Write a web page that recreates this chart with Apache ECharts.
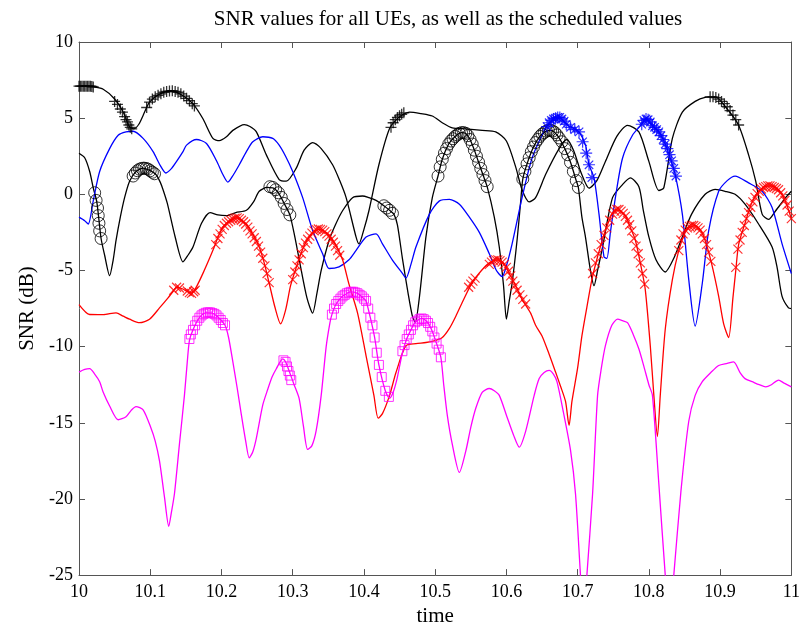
<!DOCTYPE html>
<html>
<head>
<meta charset="utf-8">
<script src="https://cdn.jsdelivr.net/npm/echarts@6/dist/echarts.min.js"></script>
<style>html,body{margin:0;padding:0;background:#fff;overflow:hidden}#c{width:803px;height:632px}</style>
</head>
<body>
<div id="c"></div>
<script>
// ---- axis ticks ----
const xTicks = [10, 10.1, 10.2, 10.3, 10.4, 10.5, 10.6, 10.7, 10.8, 10.9, 11];
const yTicks = [-25, -20, -15, -10, -5, 0, 5, 10];

// ---- UE lines [time, SNR dB] ----
const ueBlackPlus = [[10.000,7.1],[10.010,7.1],[10.020,7.05],[10.034,6.9],[10.050,6.26],[10.062,5.4],[10.071,4.43],[10.077,4.3],[10.084,4.6],[10.090,5.18],[10.099,6.05],[10.113,6.58],[10.130,6.8],[10.146,6.47],[10.160,5.94],[10.174,4.96],[10.188,3.67],[10.197,3.52],[10.207,3.78],[10.216,4.2],[10.232,4.58],[10.240,4.45],[10.249,4.1],[10.263,2.59],[10.281,0.97],[10.291,0.86],[10.305,1.72],[10.316,2.9],[10.328,3.4],[10.340,3.0],[10.356,1.94],[10.366,0.9],[10.375,-0.22],[10.389,-2.81],[10.393,-3.25],[10.400,-2.3],[10.407,-1.08],[10.421,1.94],[10.436,4.32],[10.450,5.1],[10.464,5.4],[10.480,5.3],[10.496,5.14],[10.510,4.7],[10.524,4.36],[10.543,4.3],[10.566,4.2],[10.585,4.1],[10.600,3.5],[10.613,1.8],[10.622,0.3],[10.632,-0.5],[10.641,-0.22],[10.655,1.3],[10.674,3.0],[10.685,3.6],[10.695,2.8],[10.705,1.4],[10.716,0.4],[10.727,0.9],[10.739,2.16],[10.755,3.8],[10.770,4.53],[10.786,4.1],[10.800,2.16],[10.814,0.25],[10.821,0.43],[10.833,3.67],[10.847,5.4],[10.865,6.1],[10.879,6.37],[10.893,6.4],[10.910,5.6],[10.926,4.53],[10.940,2.59],[10.950,0.86],[10.959,-1.3],[10.968,-1.65],[10.978,-1.08],[10.992,-0.22],[11.000,0.2]];

const ueBlackCircle = [[10.000,2.7],[10.008,2.4],[10.015,1.5],[10.020,0.43],[10.025,-0.5],[10.031,-2.9],[10.036,-4.0],[10.043,-5.34],[10.048,-4.3],[10.052,-3.03],[10.058,-1.5],[10.064,-0.22],[10.071,0.86],[10.080,1.5],[10.090,1.72],[10.100,1.55],[10.108,1.3],[10.114,0.8],[10.118,0.3],[10.124,-0.6],[10.135,-2.8],[10.146,-4.43],[10.153,-4.0],[10.160,-3.46],[10.172,-1.9],[10.184,-1.2],[10.195,-1.35],[10.207,-1.4],[10.220,-1.2],[10.235,-1.05],[10.245,-0.5],[10.253,0.2],[10.264,0.45],[10.272,0.43],[10.280,0.1],[10.288,-0.6],[10.296,-1.35],[10.303,-2.8],[10.310,-4.5],[10.320,-6.8],[10.328,-7.8],[10.334,-6.5],[10.340,-5.0],[10.351,-3.03],[10.360,-2.0],[10.370,-1.08],[10.384,-0.22],[10.398,-0.11],[10.407,-0.22],[10.417,-0.4],[10.428,-0.75],[10.436,-1.05],[10.442,-1.3],[10.447,-2.0],[10.454,-4.2],[10.462,-6.5],[10.468,-8.0],[10.472,-8.4],[10.478,-6.7],[10.487,-2.81],[10.496,-0.22],[10.504,1.2],[10.510,2.3],[10.519,3.3],[10.528,3.8],[10.537,4.05],[10.543,4.0],[10.549,3.6],[10.555,2.9],[10.561,2.1],[10.567,1.3],[10.573,0.5],[10.583,-1.5],[10.590,-3.46],[10.596,-6.0],[10.600,-8.2],[10.604,-7.0],[10.608,-5.84],[10.615,-3.0],[10.620,-0.5],[10.623,1.0],[10.629,2.0],[10.638,3.1],[10.647,3.8],[10.656,4.15],[10.662,4.2],[10.668,4.05],[10.674,3.7],[10.682,3.0],[10.690,2.1],[10.698,0.9],[10.701,0.45],[10.706,-1.5],[10.711,-2.81],[10.718,-5.0],[10.723,-6.0],[10.728,-5.0],[10.735,-3.46],[10.749,-0.22],[10.763,0.64],[10.774,1.08],[10.786,0.5],[10.792,-1.0],[10.800,-2.8],[10.810,-4.3],[10.823,-5.1],[10.835,-4.2],[10.847,-2.8],[10.860,-1.3],[10.879,0.0],[10.893,0.32],[10.907,0.2],[10.921,0.0],[10.935,-0.65],[10.954,-1.95],[10.973,-3.46],[10.980,-4.8],[10.987,-6.7],[10.996,-7.46],[11.000,-7.5]];

const ueBlue = [[10.000,-1.5],[10.008,-1.73],[10.013,-1.95],[10.020,-0.43],[10.029,1.5],[10.043,3.0],[10.055,3.88],[10.066,4.1],[10.076,4.14],[10.090,3.67],[10.104,2.8],[10.114,1.9],[10.122,1.4],[10.130,1.7],[10.137,2.16],[10.146,2.8],[10.151,3.23],[10.165,3.6],[10.179,3.34],[10.193,2.2],[10.202,1.3],[10.209,0.8],[10.217,1.3],[10.225,1.94],[10.235,2.8],[10.244,3.45],[10.258,3.78],[10.272,3.67],[10.281,3.23],[10.290,2.5],[10.300,1.5],[10.314,-0.22],[10.328,-2.38],[10.342,-3.9],[10.351,-4.87],[10.365,-4.76],[10.379,-4.3],[10.389,-3.68],[10.403,-2.81],[10.417,-2.6],[10.426,-3.25],[10.440,-4.32],[10.454,-5.19],[10.459,-5.5],[10.466,-4.6],[10.473,-3.46],[10.492,-1.3],[10.506,-0.43],[10.520,-0.33],[10.534,-0.65],[10.548,-1.5],[10.562,-2.5],[10.576,-3.9],[10.586,-5.0],[10.594,-5.4],[10.600,-4.7],[10.608,-3.25],[10.622,-0.22],[10.636,2.37],[10.655,4.32],[10.665,4.9],[10.674,5.07],[10.684,4.6],[10.695,4.3],[10.702,4.1],[10.711,3.23],[10.716,1.94],[10.723,1.08],[10.730,-1.3],[10.737,-4.1],[10.741,-4.2],[10.746,-2.5],[10.753,-0.22],[10.763,2.37],[10.777,3.88],[10.790,4.6],[10.795,4.96],[10.805,4.5],[10.814,4.1],[10.823,3.3],[10.830,2.4],[10.837,1.3],[10.847,-1.3],[10.856,-5.6],[10.865,-8.65],[10.875,-5.84],[10.884,-2.38],[10.898,0.2],[10.910,0.9],[10.921,1.2],[10.940,0.75],[10.959,0.2],[10.973,-0.87],[10.987,-3.25],[11.000,-5.2]];

const ueRed = [[10.000,-7.24],[10.015,-7.89],[10.034,-7.9],[10.052,-7.78],[10.062,-8.0],[10.071,-8.2],[10.085,-8.43],[10.099,-8.2],[10.113,-7.46],[10.125,-6.8],[10.132,-6.38],[10.137,-6.1],[10.145,-6.2],[10.155,-6.45],[10.162,-6.3],[10.174,-5.19],[10.188,-3.68],[10.197,-2.6],[10.205,-2.0],[10.214,-1.7],[10.221,-1.55],[10.228,-1.7],[10.235,-1.95],[10.245,-2.7],[10.253,-3.46],[10.260,-4.5],[10.267,-5.84],[10.275,-7.4],[10.283,-8.5],[10.290,-7.6],[10.297,-6.0],[10.305,-4.8],[10.314,-3.6],[10.323,-2.81],[10.337,-2.3],[10.350,-2.6],[10.360,-3.3],[10.370,-4.3],[10.379,-5.9],[10.391,-7.78],[10.403,-10.6],[10.414,-13.2],[10.420,-14.7],[10.426,-14.4],[10.436,-13.2],[10.445,-11.7],[10.459,-9.94],[10.473,-9.8],[10.487,-9.73],[10.500,-9.6],[10.510,-9.4],[10.520,-8.8],[10.529,-8.0],[10.540,-6.9],[10.552,-5.8],[10.565,-5.0],[10.576,-4.5],[10.587,-4.3],[10.596,-4.5],[10.604,-5.19],[10.613,-6.0],[10.622,-6.9],[10.634,-7.8],[10.641,-8.6],[10.650,-9.3],[10.660,-10.5],[10.669,-11.67],[10.676,-12.6],[10.683,-13.6],[10.688,-15.17],[10.692,-13.6],[10.700,-11.4],[10.706,-9.3],[10.713,-7.4],[10.720,-5.6],[10.728,-4.1],[10.739,-2.38],[10.753,-1.0],[10.760,-1.1],[10.767,-1.4],[10.775,-2.3],[10.781,-3.0],[10.790,-4.97],[10.795,-6.27],[10.802,-9.94],[10.807,-13.2],[10.812,-15.9],[10.816,-13.2],[10.823,-8.86],[10.833,-5.6],[10.842,-3.68],[10.850,-2.6],[10.856,-2.2],[10.865,-2.05],[10.872,-2.3],[10.879,-3.03],[10.888,-4.54],[10.898,-6.7],[10.905,-8.5],[10.912,-9.4],[10.918,-6.8],[10.922,-5.0],[10.926,-3.3],[10.935,-1.9],[10.945,-0.5],[10.959,0.4],[10.970,0.55],[10.982,0.3],[10.992,-0.5],[11.000,-1.6]];

const ueMagenta = [[10.000,-11.67],[10.008,-11.5],[10.015,-11.45],[10.022,-11.8],[10.029,-12.3],[10.034,-13.0],[10.043,-13.9],[10.055,-14.8],[10.066,-14.6],[10.073,-14.2],[10.080,-13.94],[10.090,-14.15],[10.101,-15.34],[10.107,-16.2],[10.113,-17.5],[10.120,-19.88],[10.126,-21.8],[10.130,-20.8],[10.134,-19.66],[10.141,-16.4],[10.148,-13.2],[10.152,-11.0],[10.155,-9.6],[10.160,-8.9],[10.169,-8.1],[10.178,-7.78],[10.187,-7.8],[10.196,-8.1],[10.205,-8.6],[10.210,-9.4],[10.216,-11.0],[10.222,-12.7],[10.228,-14.5],[10.234,-16.2],[10.239,-17.3],[10.244,-16.9],[10.249,-16.0],[10.258,-13.83],[10.265,-12.8],[10.271,-12.0],[10.277,-11.45],[10.286,-10.8],[10.290,-11.0],[10.295,-11.6],[10.302,-12.5],[10.309,-13.4],[10.315,-15.2],[10.321,-16.75],[10.327,-16.5],[10.333,-15.5],[10.340,-13.2],[10.347,-10.0],[10.352,-8.5],[10.355,-7.9],[10.361,-7.2],[10.370,-6.7],[10.382,-6.4],[10.391,-6.5],[10.400,-6.85],[10.403,-7.0],[10.409,-8.1],[10.415,-9.4],[10.421,-11.2],[10.430,-12.9],[10.436,-13.4],[10.441,-13.0],[10.446,-12.2],[10.450,-11.3],[10.454,-10.4],[10.460,-9.5],[10.466,-8.9],[10.472,-8.4],[10.481,-8.15],[10.490,-8.45],[10.496,-9.0],[10.502,-9.8],[10.508,-10.7],[10.512,-12.5],[10.517,-14.5],[10.524,-16.4],[10.534,-18.26],[10.543,-16.86],[10.550,-15.3],[10.557,-14.05],[10.566,-13.0],[10.576,-12.75],[10.583,-12.9],[10.590,-13.2],[10.600,-14.5],[10.610,-15.8],[10.618,-16.6],[10.627,-15.56],[10.639,-13.2],[10.646,-12.1],[10.653,-11.7],[10.660,-11.56],[10.666,-11.8],[10.671,-12.3],[10.680,-14.3],[10.690,-16.8],[10.697,-19.66],[10.704,-25.0],[10.7085,-28.0],[10.713,-25.0],[10.721,-19.66],[10.728,-13.2],[10.733,-11.5],[10.739,-9.94],[10.748,-8.6],[10.756,-8.2],[10.763,-8.3],[10.770,-8.43],[10.778,-9.2],[10.786,-10.16],[10.793,-11.3],[10.800,-12.5],[10.805,-13.2],[10.814,-19.0],[10.823,-25.0],[10.829,-28.0],[10.835,-25.0],[10.845,-19.5],[10.856,-14.9],[10.865,-13.2],[10.875,-12.3],[10.887,-11.7],[10.898,-11.24],[10.910,-11.1],[10.919,-11.0],[10.928,-11.7],[10.935,-12.1],[10.945,-12.3],[10.955,-12.5],[10.964,-12.64],[10.972,-12.5],[10.982,-12.2],[10.990,-12.4],[11.000,-12.64]];

// ---- scheduled values (markers) ----
const schedPlus = [[10.000,7.1],[10.002,7.1],[10.004,7.1],[10.006,7.1],[10.008,7.1],[10.010,7.1],[10.012,7.1],[10.014,7.1],[10.016,7.1],[10.018,7.08],[10.020,7.05],
 [10.050,6.1],[10.054,5.9],[10.058,5.6],[10.061,5.4],[10.064,5.1],[10.066,4.9],[10.068,4.75],[10.070,4.55],[10.072,4.4],[10.074,4.3],
 [10.095,5.7],[10.099,6.05],[10.103,6.25],[10.107,6.4],[10.111,6.5],[10.115,6.6],[10.119,6.7],[10.123,6.75],[10.127,6.78],[10.131,6.8],[10.135,6.75],[10.139,6.7],[10.143,6.6],[10.147,6.45],[10.151,6.3],[10.155,6.15],[10.159,5.95],[10.162,5.8],
 [10.438,4.4],[10.441,4.7],[10.444,4.9],[10.447,5.05],[10.450,5.15],[10.453,5.25],[10.456,5.35],
 [10.886,6.4],[10.890,6.4],[10.894,6.35],[10.898,6.25],[10.902,6.1],[10.906,5.95],[10.910,5.75],[10.914,5.5],[10.918,5.2],[10.922,4.9],[10.926,4.55]];

const schedCircle = [[10.022,0.1],[10.024,-0.4],[10.026,-0.9],[10.027,-1.4],[10.028,-1.9],[10.029,-2.4],[10.031,-2.9],
 [10.076,1.2],[10.079,1.4],[10.082,1.55],[10.085,1.65],[10.088,1.7],[10.091,1.72],[10.094,1.7],[10.097,1.65],[10.100,1.55],[10.103,1.45],[10.106,1.35],
 [10.268,0.5],[10.272,0.45],[10.276,0.3],[10.280,0.1],[10.284,-0.2],[10.288,-0.6],[10.292,-1.0],[10.296,-1.35],
 [10.428,-0.75],[10.432,-0.9],[10.436,-1.05],[10.440,-1.25],
 [10.504,1.2],[10.507,1.8],[10.510,2.3],[10.513,2.7],[10.516,3.0],[10.519,3.3],[10.522,3.5],[10.525,3.65],[10.528,3.8],[10.531,3.9],[10.534,4.0],[10.537,4.05],[10.540,4.05],[10.543,4.0],[10.546,3.85],[10.549,3.6],[10.552,3.3],[10.555,2.9],[10.558,2.5],[10.561,2.1],[10.564,1.7],[10.567,1.3],[10.570,0.9],[10.573,0.5],
 [10.623,1.0],[10.626,1.5],[10.629,2.0],[10.632,2.4],[10.635,2.8],[10.638,3.1],[10.641,3.4],[10.644,3.6],[10.647,3.8],[10.650,3.95],[10.653,4.05],[10.656,4.15],[10.659,4.2],[10.662,4.2],[10.665,4.15],[10.668,4.05],[10.671,3.9],[10.674,3.7],[10.678,3.45],[10.682,3.0],[10.686,2.6],[10.690,2.1],[10.694,1.5],[10.698,0.9],[10.701,0.45]];

const schedStar = [[10.657,4.45],[10.660,4.7],[10.663,4.85],[10.666,4.95],[10.669,5.0],[10.672,5.05],[10.675,5.05],[10.678,4.95],[10.681,4.8],[10.684,4.6],[10.690,4.4],[10.696,4.25],[10.702,4.1],[10.707,3.45],[10.712,2.7],[10.716,1.94],[10.720,1.1],
 [10.790,4.6],[10.793,4.85],[10.796,4.95],[10.799,4.9],[10.802,4.75],[10.805,4.5],[10.808,4.4],[10.811,4.25],[10.814,4.1],[10.817,3.85],[10.820,3.6],[10.823,3.3],[10.826,3.0],[10.829,2.6],[10.832,2.2],[10.835,1.7],[10.838,1.2]];

const schedX = [[10.133,-6.3],[10.137,-6.1],[10.141,-6.15],[10.152,-6.35],[10.155,-6.45],[10.158,-6.5],[10.161,-6.4],[10.163,-6.3],
 [10.192,-3.3],[10.195,-2.9],[10.198,-2.6],[10.201,-2.3],[10.204,-2.05],[10.207,-1.9],[10.210,-1.8],[10.213,-1.7],[10.216,-1.62],[10.219,-1.57],[10.222,-1.55],[10.225,-1.6],[10.228,-1.7],[10.231,-1.8],[10.234,-1.95],[10.237,-2.15],[10.240,-2.4],[10.243,-2.6],[10.246,-2.85],[10.249,-3.1],[10.252,-3.4],[10.255,-3.8],[10.258,-4.2],[10.261,-4.7],[10.264,-5.2],[10.267,-5.8],
 [10.300,-5.6],[10.303,-5.1],[10.306,-4.7],[10.309,-4.3],[10.312,-3.9],[10.315,-3.5],[10.318,-3.2],[10.321,-2.95],[10.324,-2.75],[10.327,-2.55],[10.330,-2.4],[10.333,-2.32],[10.336,-2.28],[10.339,-2.3],[10.342,-2.35],[10.345,-2.45],[10.348,-2.6],[10.351,-2.75],[10.354,-2.95],[10.357,-3.15],[10.360,-3.4],[10.363,-3.7],[10.366,-4.0],
 [10.547,-6.1],[10.550,-5.9],[10.553,-5.7],[10.556,-5.5],
 [10.576,-4.6],[10.579,-4.45],[10.582,-4.35],[10.585,-4.3],[10.588,-4.3],[10.591,-4.35],[10.594,-4.45],[10.597,-4.6],[10.600,-4.8],[10.603,-5.05],[10.606,-5.35],[10.609,-5.7],[10.612,-6.0],[10.615,-6.3],[10.619,-6.6],[10.623,-6.9],[10.627,-7.2],
 [10.721,-5.2],[10.725,-4.5],[10.729,-3.9],[10.733,-3.3],[10.737,-2.7],[10.741,-2.2],[10.745,-1.7],[10.749,-1.3],[10.752,-1.1],[10.755,-1.0],[10.758,-1.0],[10.761,-1.1],[10.764,-1.25],[10.767,-1.45],[10.770,-1.7],[10.773,-2.0],[10.776,-2.4],[10.779,-2.9],[10.782,-3.4],[10.785,-3.9],[10.788,-4.5],[10.791,-5.2],[10.794,-5.9],
 [10.842,-3.7],[10.845,-3.0],[10.848,-2.6],[10.851,-2.35],[10.854,-2.2],[10.857,-2.1],[10.860,-2.05],[10.863,-2.05],[10.866,-2.1],[10.869,-2.2],[10.872,-2.35],[10.875,-2.6],[10.878,-2.9],[10.881,-3.3],[10.884,-3.8],[10.887,-4.4],
 [10.922,-4.8],[10.925,-3.6],[10.928,-3.0],[10.931,-2.5],[10.934,-2.05],[10.937,-1.6],[10.940,-1.2],[10.943,-0.85],[10.946,-0.5],[10.949,-0.2],[10.952,0.05],[10.955,0.2],[10.958,0.35],[10.961,0.45],[10.964,0.5],[10.967,0.55],[10.970,0.55],[10.973,0.5],[10.976,0.45],[10.979,0.38],[10.982,0.3],[10.985,0.1],[10.988,-0.1],[10.991,-0.4],[10.994,-0.7],[10.997,-1.1],[11.000,-1.6]];

const schedSquare = [[10.155,-9.5],[10.157,-9.2],[10.160,-8.9],[10.163,-8.6],[10.166,-8.3],[10.169,-8.1],[10.172,-7.95],[10.175,-7.85],[10.178,-7.78],[10.181,-7.75],[10.184,-7.75],[10.187,-7.8],[10.190,-7.85],[10.193,-7.95],[10.196,-8.1],[10.199,-8.25],[10.202,-8.45],[10.205,-8.6],
 [10.287,-10.9],[10.290,-11.0],[10.292,-11.3],[10.294,-11.6],[10.296,-11.9],[10.298,-12.2],
 [10.355,-7.9],[10.358,-7.5],[10.361,-7.2],[10.364,-7.0],[10.367,-6.85],[10.370,-6.7],[10.373,-6.6],[10.376,-6.5],[10.379,-6.45],[10.382,-6.4],[10.385,-6.4],[10.388,-6.45],[10.391,-6.5],[10.394,-6.6],[10.397,-6.7],[10.400,-6.85],[10.403,-7.0],[10.406,-7.5],[10.409,-8.1],[10.412,-8.6],[10.415,-9.4],[10.418,-10.4],[10.421,-11.2],[10.425,-12.0],[10.430,-12.9],[10.435,-13.3],
 [10.454,-10.3],[10.457,-9.9],[10.460,-9.5],[10.463,-9.2],[10.466,-8.9],[10.469,-8.6],[10.472,-8.4],[10.475,-8.3],[10.478,-8.2],[10.481,-8.15],[10.484,-8.2],[10.487,-8.3],[10.490,-8.45],[10.493,-8.7],[10.496,-9.0],[10.499,-9.4],[10.502,-9.8],[10.505,-10.2],[10.508,-10.7]];

const FONT = '"Liberation Serif", "DejaVu Serif", serif';
const AXC = '#555';

function lineSeries(data, color) {
  return { type: 'line', data: data, showSymbol: false, smooth: 0.25, clip: true,
    lineStyle: { color: color, width: 1.3 }, itemStyle: { color: color }, animation: false, z: 2 };
}
function markSeries(data, symbol, size, color, bw) {
  return { type: 'scatter', data: data, symbol: symbol, symbolSize: size, clip: true,
    itemStyle: { color: 'rgba(0,0,0,0)', borderColor: color, borderWidth: bw }, animation: false, z: 3 };
}
const PLUS = 'path://M5,0L5,10M0,5L10,5';
const CROSS = 'path://M0,0L10,10M10,0L0,10';
const STAR = 'path://M5,0L5,10M0,5L10,5M1.5,1.5L8.5,8.5M8.5,1.5L1.5,8.5';

function xAx(pos, labels) {
  return { type: 'value', min: xTicks[0], max: xTicks[xTicks.length - 1], interval: 0.1, position: pos,
    name: labels ? 'time' : '', nameLocation: 'middle', nameGap: 28,
    nameTextStyle: { fontFamily: FONT, fontSize: 21, color: '#000' },
    axisLine: { show: true, onZero: false, lineStyle: { color: AXC, width: 1 } },
    axisTick: { inside: true, length: 6, lineStyle: { color: AXC } },
    axisLabel: { show: labels, margin: 8, fontFamily: FONT, fontSize: 18, color: '#000',
      formatter: v => String(Math.round(v * 10) / 10) },
    splitLine: { show: false } };
}
function yAx(pos, labels) {
  return { type: 'value', min: yTicks[0], max: yTicks[yTicks.length - 1], interval: 5, position: pos,
    name: labels ? 'SNR (dB)' : '', nameLocation: 'middle', nameGap: 40, nameRotate: 90,
    nameTextStyle: { fontFamily: FONT, fontSize: 21, color: '#000' },
    axisLine: { show: true, onZero: false, lineStyle: { color: AXC, width: 1 } },
    axisTick: { inside: true, length: 6, lineStyle: { color: AXC } },
    axisLabel: { show: labels, margin: 6, fontFamily: FONT, fontSize: 18, color: '#000' },
    splitLine: { show: false } };
}

const chart = echarts.init(document.getElementById('c'), null, { renderer: 'canvas' });
chart.setOption({
  backgroundColor: '#fff',
  animation: false,
  title: { text: 'SNR values for all UEs, as well as the scheduled values', left: 443, top: 4, textAlign: 'center',
    textStyle: { fontFamily: FONT, fontSize: 21, fontWeight: 'normal', color: '#000' } },
  grid: { left: 79, right: 10, top: 42, bottom: 50, containLabel: false },
  xAxis: [xAx('bottom', true), xAx('top', false)],
  yAxis: [yAx('left', true), yAx('right', false)],
  series: [
    lineSeries(ueBlackPlus, '#000000'),
    lineSeries(ueBlackCircle, '#000000'),
    lineSeries(ueBlue, '#0000ff'),
    lineSeries(ueRed, '#ff0000'),
    lineSeries(ueMagenta, '#ff00ff'),
    markSeries(schedPlus, PLUS, 11, '#000000', 1.3),
    markSeries(schedCircle, 'circle', 12, '#000000', 1),
    markSeries(schedStar, STAR, 12, '#0000ff', 1.2),
    markSeries(schedX, CROSS, 9, '#ff0000', 1.2),
    markSeries(schedSquare, 'rect', 9, '#ff00ff', 1)
  ]
});
</script>
</body>
</html>
